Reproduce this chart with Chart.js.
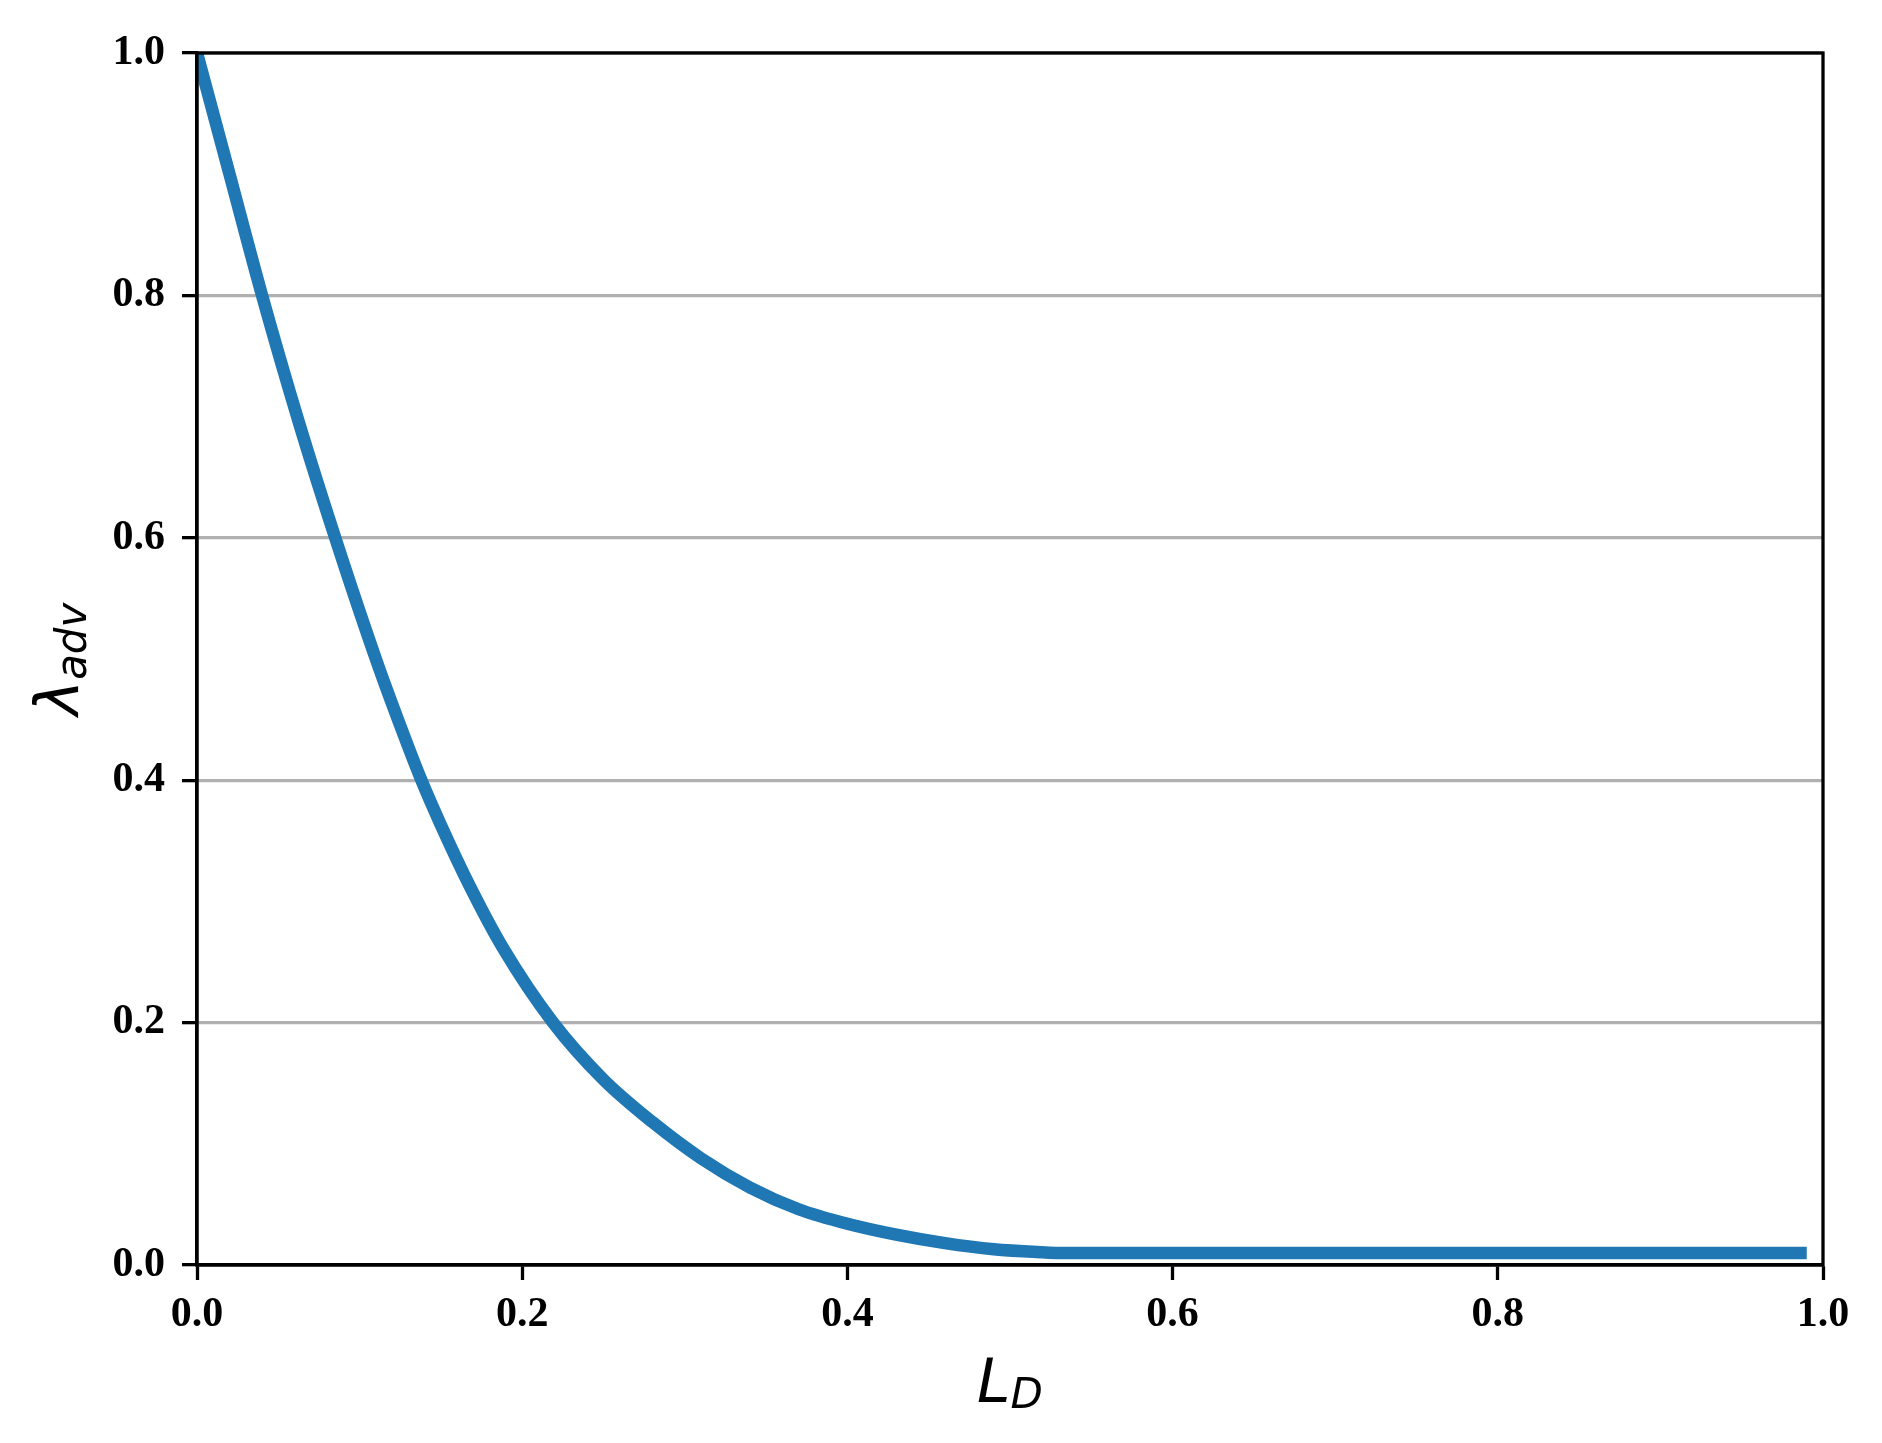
<!DOCTYPE html>
<html>
<head>
<meta charset="utf-8">
<script src="https://cdn.jsdelivr.net/npm/chart.js@4/dist/chart.umd.min.js"></script>
<style>
  html, body { margin: 0; padding: 0; background: #ffffff; }
  #wrap { position: relative; width: 1882px; height: 1443px; }
</style>
</head>
<body>
<div id="wrap"><canvas id="c"></canvas></div>
<script>
// ---- data ----
const LD = [0, 0.02, 0.04, 0.0627, 0.085, 0.11, 0.125, 0.138, 0.15, 0.168, 0.188, 0.219, 0.25, 0.28, 0.31, 0.34, 0.37, 0.40, 0.43, 0.46, 0.49, 0.52, 0.53, 0.99];
const lambdaAdv = [1.0, 0.90, 0.80, 0.695, 0.60, 0.50, 0.445, 0.40, 0.363, 0.312, 0.262, 0.20, 0.153, 0.118, 0.088, 0.064, 0.046, 0.034, 0.025, 0.018, 0.013, 0.0105, 0.01, 0.01];
const xTicks = [0.0, 0.2, 0.4, 0.6, 0.8, 1.0];
const yTicks = [0.0, 0.2, 0.4, 0.6, 0.8, 1.0];
const xTitle = ['L', 'D'];
const yTitle = ['\u03BB', 'adv'];

const points = LD.map((x, i) => ({ x: x, y: lambdaAdv[i] }));

const tickFont = { family: "'Liberation Serif', 'Times New Roman', Times, serif", size: 42, weight: 'bold' };

const frame = {
  id: 'frame',
  afterDatasetsDraw(chart) {
    const { ctx, chartArea: a } = chart;
    ctx.save();
    ctx.strokeStyle = '#000000';
    ctx.lineWidth = 3.3;
    ctx.strokeRect(a.left, a.top, a.right - a.left, a.bottom - a.top);
    ctx.restore();
  },
  afterDraw(chart) {
    const { ctx, chartArea: a } = chart;
    ctx.save();
    ctx.fillStyle = '#000000';
    ctx.textBaseline = 'alphabetic';
    const big = 'italic 60px "DejaVu Sans"';
    const small = 'italic 42px "DejaVu Sans"';
    ctx.font = big;
    const w1 = ctx.measureText(xTitle[0]).width;
    ctx.font = small;
    const w2 = ctx.measureText(xTitle[1]).width;
    const cx = (a.left + a.right) / 2;
    const base = a.bottom + 137;
    const x0 = cx - (w1 + w2) / 2;
    ctx.font = big;
    ctx.textAlign = 'left';
    ctx.fillText(xTitle[0], x0, base);
    ctx.font = small;
    ctx.fillText(xTitle[1], x0 + w1, base + 6);
    ctx.font = big;
    const v1 = ctx.measureText(yTitle[0]).width;
    ctx.font = small;
    const v2 = ctx.measureText(yTitle[1]).width;
    const cy = (a.top + a.bottom) / 2;
    ctx.translate(a.left - 119, cy);
    ctx.rotate(-Math.PI / 2);
    const s0 = -(v1 + v2) / 2;
    ctx.font = big;
    ctx.fillText(yTitle[0], s0, 0);
    ctx.font = small;
    ctx.fillText(yTitle[1], s0 + v1, 8);
    ctx.restore();
  }
};

function build() {
  new Chart(document.getElementById('c'), {
    type: 'line',
    data: {
      datasets: [{
        data: points,
        borderColor: '#1f77b4',
        borderWidth: 12.5,
        borderCapStyle: 'butt',
        borderJoinStyle: 'round',
        pointRadius: 0,
        fill: false,
        cubicInterpolationMode: 'monotone',
        clip: 0
      }]
    },
    options: {
      responsive: true,
      maintainAspectRatio: false,
      animation: false,
      events: [],
      layout: { padding: { left: 0, top: 53, right: 59, bottom: 0 } },
      plugins: { legend: { display: false }, tooltip: { enabled: false } },
      scales: {
        x: {
          type: 'linear',
          min: 0, max: 1,
          afterFit(scale) { scale.height = 178; },
          afterBuildTicks(scale) { scale.ticks = xTicks.map(v => ({ value: v })); },
          ticks: {
            color: '#000000',
            font: tickFont,
            padding: 10,
            maxRotation: 0,
            callback: v => Number(v).toFixed(1)
          },
          grid: {
            drawOnChartArea: false,
            drawTicks: true,
            tickLength: 15,
            tickWidth: 3.3,
            tickColor: '#000000'
          },
          border: { display: true, color: '#000000', width: 3.3 }
        },
        y: {
          type: 'linear',
          min: 0, max: 1,
          afterFit(scale) { scale.width = 197; },
          afterBuildTicks(scale) { scale.ticks = yTicks.map(v => ({ value: v })); },
          ticks: {
            color: '#000000',
            font: tickFont,
            padding: 17,
            callback: v => Number(v).toFixed(1)
          },
          grid: {
            color: '#b0b0b0',
            lineWidth: 3.3,
            drawTicks: true,
            tickLength: 15,
            tickWidth: 3.3,
            tickColor: '#000000'
          },
          border: { display: true, color: '#000000', width: 3.3 }
        }
      }
    },
    plugins: [frame]
  });
}

Promise.all([
  document.fonts.load('bold 42px "Liberation Serif"'),
  document.fonts.load('italic 60px "DejaVu Sans"')
]).then(build, build);
</script>
</body>
</html>
